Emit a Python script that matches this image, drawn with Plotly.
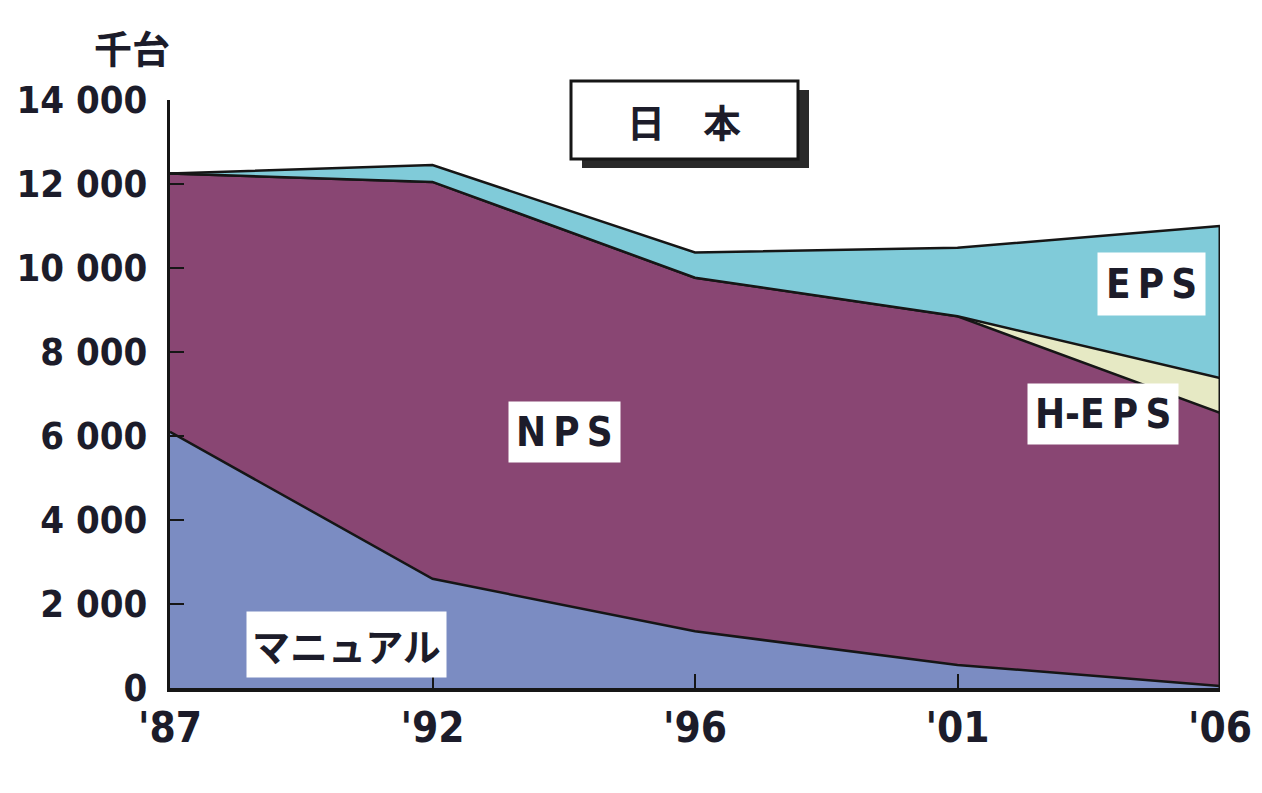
import plotly.graph_objects as go

years = ["'87", "'92", "'96", "'01", "'06"]
manual = [6100, 2600, 1350, 550, 50]
nps = [6150, 9450, 8420, 8300, 6500]
heps = [0, 0, 0, 0, 830]
eps = [0, 400, 600, 1630, 3620]

y_ticks = [0, 2000, 4000, 6000, 8000, 10000, 12000, 14000]
y_ticktext = ["0", "2 000", "4 000", "6 000", "8 000", "10 000", "12 000", "14 000"]

NUM_FONT = "DejaVu Sans Condensed, Liberation Sans Narrow, sans-serif"
JP_FONT = "Noto Sans CJK JP, sans-serif"
TXT = "#1c1c2a"
LINE = "#161616"

fig = go.Figure()
series = [
    ("マニュアル", manual, "#7b8cc2"),
    ("NPS", nps, "#894673"),
    ("H-EPS", heps, "#e6e9c4"),
    ("EPS", eps, "#80cbd9"),
]
for name, vals, col in series:
    fig.add_trace(go.Scatter(
        x=years, y=vals, name=name, stackgroup="one", mode="lines",
        line=dict(color=LINE, width=2.5), fillcolor=col, hoverinfo="skip",
    ))

totals = [a + b + c + d for a, b, c, d in zip(manual, nps, heps, eps)]
fig.add_trace(go.Scatter(x=[years[-1], years[-1]], y=[0, totals[-1]], mode="lines",
                         line=dict(color=LINE, width=3), hoverinfo="skip", showlegend=False))

fig.update_layout(
    width=1262, height=793,
    margin=dict(l=162, r=50, t=92, b=113),
    paper_bgcolor="white", plot_bgcolor="white",
    showlegend=False,
    xaxis=dict(
        type="category", range=[0, len(years) - 1], automargin=False,
        showline=True, linecolor=LINE, linewidth=4,
        ticks="inside", ticklen=14, tickwidth=2, tickcolor=LINE,
        showgrid=False, zeroline=False,
        tickfont=dict(family=NUM_FONT, size=42, color=TXT, weight="bold"),
        ticklabelstandoff=0,
    ),
    yaxis=dict(
        range=[0, 14000], tickvals=y_ticks, ticktext=y_ticktext, automargin=False,
        showline=True, linecolor=LINE, linewidth=3,
        ticks="inside", ticklen=14, tickwidth=2, tickcolor=LINE,
        showgrid=False, zeroline=False,
        tickfont=dict(family=NUM_FONT, size=38, color=TXT, weight="bold"),
        ticklabelstandoff=12,
    ),
)

def px2x(p):
    return (p - 170) / 1050

def px2y(p):
    return (688 - p) / 588

# title box with shadow
fig.add_shape(type="rect", xref="paper", yref="paper",
              x0=px2x(582), x1=px2x(809), y0=px2y(168), y1=px2y(90),
              fillcolor="#2a2a2a", line=dict(width=0), layer="above")
fig.add_shape(type="rect", xref="paper", yref="paper",
              x0=px2x(571), x1=px2x(798), y0=px2y(159), y1=px2y(81),
              fillcolor="white", line=dict(color=LINE, width=3), layer="above")
fig.add_annotation(xref="paper", yref="paper", x=px2x(684), y=px2y(120),
                   xanchor="center", yanchor="middle",
                   text="日　本", showarrow=False,
                   font=dict(family=JP_FONT, size=38, color=TXT, weight="bold"))

# unit label
fig.add_annotation(xref="paper", yref="paper", x=px2x(172), y=px2y(46),
                   xanchor="right", yanchor="middle", text="千台", showarrow=False,
                   font=dict(family=JP_FONT, size=38, color=TXT, weight="bold"))

def label(text, cx, cy, font, size, pad):
    fig.add_annotation(xref="paper", yref="paper", x=px2x(cx), y=px2y(cy),
                       xanchor="center", yanchor="middle",
                       text=text, showarrow=False, bgcolor="white", borderpad=pad,
                       font=dict(family=font, size=size, color=TXT, weight="bold"))

T = "\u2009"
label(T.join("NPS"), 564, 432, NUM_FONT, 40, 7)
label(T.join("EPS"), 1151, 284, NUM_FONT, 40, 8)
label("H-" + T.join("EPS"), 1103, 414, NUM_FONT, 40, 7)
label("マニュアル", 346, 644, JP_FONT, 38, 5)

fig.write_html("out.html")
